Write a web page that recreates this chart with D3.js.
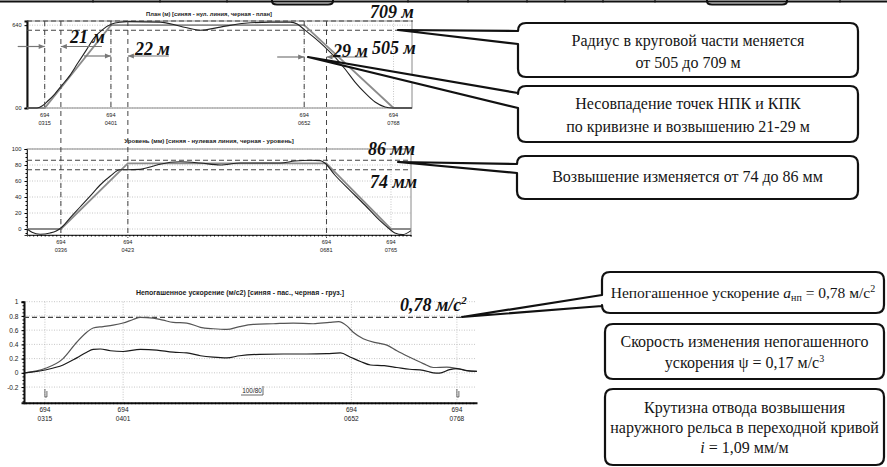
<!DOCTYPE html>
<html><head><meta charset="utf-8">
<script src="https://cdn.jsdelivr.net/npm/d3@7"></script>
<style>
body{margin:0;background:#fff}
svg{display:block}
</style></head><body>
<svg id="c" width="887" height="467"></svg>
<script>
// ---- Plan (curvature) ----
const planStations = [292,305,311.5,319,328,337.5,348,358,369,379,391,402,413,422,465,491,517,543,575,608,634,643,653,666,679,692,705,718,731,744,757,767,792];
const planValues   = [0,0,15,54,108,177,254,347,447,540,609,648,663,667,663,632,601,625,655,663,663,648,601,540,470,393,301,200,116,46,8,0,0];
const planZeroStations = [292,315,401,652,768,792];
const planZeroValues   = [0,0,640,640,0,0];
const planRefValues = [672, 601];
const planRefLabels = ["709 м", "505 м"];
const planTickStations = [315,401,652,768];
const planYTicks = [640, 0];
const planYTickLabels = ["640", "00"];

// ---- Cross level (superelevation) ----
const levelStations = [292,298.5,309,322,330,337.5,348,361,374,387,400,413,422,439,452,465,491,517,543,569,595,621,640,660,673,679,692,711,731,750,763,770,780,791];
const levelValues   = [0,-4,-6.5,-5,-2.5,2.5,14,27.5,41,55,66,74,74,74.5,77.5,81,84,82.5,80,82.5,82.5,82.5,85,86,85.5,82.5,67.5,49,30,11,0,-5,-7,-2];
const levelZeroStations = [292,336,423,681,765,791];
const levelZeroValues   = [0,0,82,82,0,0];
const levelRefValues = [86, 74];
const levelRefLabels = ["86 мм", "74 мм"];
const levelTickStations = [336,423,681,765];
const levelYTicks = [0,20,40,60,80,100];

// ---- Unbalanced acceleration ----
const accelPassStations = [293,315,335,350,361,368,379,390,401,412,420,434,445,456,471,486,500,515,529,544,566,588,610,628,638,647,654,665,680,691,702,716,731,742,757,768,779,790];
const accelPass = [0,0.06,0.2,0.43,0.57,0.63,0.65,0.67,0.70,0.75,0.78,0.77,0.74,0.71,0.70,0.64,0.62,0.61,0.65,0.68,0.69,0.70,0.69,0.71,0.72,0.66,0.57,0.48,0.42,0.39,0.31,0.22,0.13,0.075,0.08,0.06,0.03,0.02];
const accelFreightStations = [293,315,335,350,361,368,376,387,401,420,438,456,471,486,500,515,529,551,577,603,625,640,651,662,673,688,702,716,731,742,749,760,768,779,790];
const accelFreight = [0,0.04,0.11,0.21,0.29,0.33,0.335,0.31,0.30,0.33,0.32,0.29,0.28,0.24,0.22,0.21,0.24,0.26,0.265,0.265,0.27,0.28,0.22,0.16,0.11,0.10,0.075,0.05,0.035,0,-0.005,0.045,0.06,0.03,0.02];
const accelRefValues = [0.78];
const accelTickStations = [315,401,652,768];
const accelYTicks = [1,0.8,0.6,0.4,0.2,0,-0.2];
const accelYTickLabels = ["1","0.8","0.6","0.4","0.2","0","-0.2"];

const kmLabel = "694";
const titles = [
  "План (м) [синяя - нул. линия, черная - план]",
  "Уровень (мм)  [синяя - нулевая линия, черная - уровень]",
  "Непогашенное ускорение (м/с2) [синяя - пас., черная - груз.]"
];

const svg = d3.select("#c");
const SANS = "'Liberation Sans', Arial, sans-serif";
const SERIF = "'Liberation Serif', 'Times New Roman', serif";
const fmtSt = d3.format("04d");

// scales
const x1 = d3.scaleLinear().domain([292, 792]).range([27, 412]);
const y1 = d3.scaleLinear().domain([0, 672]).range([108, 21]);
const x2 = d3.scaleLinear().domain([292, 791]).range([27, 411]);
const y2 = d3.scaleLinear().domain([-7.5, 100]).range([235, 149]);
const x3 = d3.scaleLinear().domain([292, 789]).range([24, 476]);
const y3 = d3.scaleLinear().domain([-0.42, 1]).range([402.7, 301.7]);

const zip = (a, b) => a.map((v, i) => [v, b[i]]);

// ---- cropped table edge at the top ----
const strip = svg.append("g");
strip.append("line").attr("x1", 0).attr("x2", 887).attr("y1", 1.5).attr("y2", 1.5)
  .attr("stroke", "#111").attr("stroke-width", 2);
[93,160,227,408,468,527,565,603,655,840].forEach(x => {
  strip.append("line").attr("x1", x).attr("x2", x).attr("y1", 0).attr("y2", 2.5)
    .attr("stroke", "#111").attr("stroke-width", 1.2);
});
[[272,333],[707,787]].forEach(([a, b]) => {
  strip.append("path").attr("d", `M${a},0V1Q${a},4.5 ${a+5},4.5H${b-5}Q${b},4.5 ${b},1V0`)
    .attr("fill", "none").attr("stroke", "#111").attr("stroke-width", 2);
});

function gridH(g, ys, xr, vals) {
  vals.forEach(v => g.append("line").attr("x1", xr[0]).attr("x2", xr[1])
    .attr("y1", ys(v)).attr("y2", ys(v)).attr("stroke", "#b8b8b8")
    .attr("stroke-width", 0.8).attr("stroke-dasharray", "1,1.5"));
}
function gridV(g, xs, yr, vals) {
  vals.forEach(v => g.append("line").attr("y1", yr[0]).attr("y2", yr[1])
    .attr("x1", xs(v)).attr("x2", xs(v)).attr("stroke", "#b8b8b8")
    .attr("stroke-width", 0.8).attr("stroke-dasharray", "1,1.5"));
}
function stationLabels(g, xs, vals, y, fs, gap) {
  vals.forEach(v => {
    const t = g.append("text").attr("x", xs(v)).attr("y", y).attr("text-anchor", "middle")
      .attr("font-family", SANS).attr("font-size", fs).attr("fill", "#222");
    t.append("tspan").attr("x", xs(v)).text(kmLabel);
    t.append("tspan").attr("x", xs(v)).attr("dy", gap).text(fmtSt(v));
  });
}
function title(g, text, x, y, fs) {
  g.append("text").attr("x", x).attr("y", y).attr("text-anchor", "middle")
    .attr("font-family", SANS).attr("font-size", fs).attr("font-weight", "bold")
    .attr("fill", "#222").text(text);
}
function boldLabel(g, x, y, text, sup) {
  const t = g.append("text").attr("x", x).attr("y", y)
    .attr("font-family", SERIF).attr("font-size", 18).attr("font-weight", "bold")
    .attr("font-style", "italic").attr("fill", "#111").text(text);
  if (sup) t.append("tspan").attr("dy", -7).attr("font-size", 11).text(sup);
}
const dashRef = (g, x0, x1_, y) => g.append("line").attr("x1", x0).attr("x2", x1_)
  .attr("y1", y).attr("y2", y).attr("stroke", "#444").attr("stroke-width", 1.1)
  .attr("stroke-dasharray", "5,3");

// ================= Panel 1: plan =================
const p1 = svg.append("g");
gridH(p1, y1, [27, 412], [640, 0]);
gridV(p1, x1, [21, 108], planTickStations);
p1.append("rect").attr("x", 27).attr("y", 21).attr("width", 385).attr("height", 87)
  .attr("fill", "none").attr("stroke", "#8a8a8a").attr("stroke-width", 1);
title(p1, titles[0], 209, 15.5, 5.8);
const ax1 = p1.append("g").attr("transform", "translate(27,0)")
  .call(d3.axisLeft(y1).tickValues(planYTicks).tickSize(2.5).tickFormat((d, i) => planYTickLabels[i]));
ax1.select(".domain").attr("stroke", "#111").attr("stroke-width", 2);
ax1.selectAll("text").attr("font-family", SANS).attr("font-size", 5.6).attr("fill", "#222").attr("dy", "0.32em");
stationLabels(p1, x1, planTickStations, 117, 5.6, 8.2);
dashRef(p1, 27, 413, y1(planRefValues[0]));
dashRef(p1, 27, 400, y1(planRefValues[1]));
p1.append("path").datum(zip(planZeroStations, planZeroValues))
  .attr("d", d3.line().x(d => x1(d[0])).y(d => y1(d[1])))
  .attr("fill", "none").attr("stroke", "#8c8c8c").attr("stroke-width", 1.8);
p1.append("path").datum(zip(planStations, planValues))
  .attr("d", d3.line().curve(d3.curveMonotoneX).x(d => x1(d[0])).y(d => y1(d[1])))
  .attr("fill", "none").attr("stroke", "#222").attr("stroke-width", 1.1);

// ================= Panel 2: level =================
const p2 = svg.append("g");
gridH(p2, y2, [27, 411], levelYTicks);
gridV(p2, x2, [149, 235], levelTickStations);
p2.append("rect").attr("x", 27).attr("y", 149).attr("width", 384).attr("height", 86)
  .attr("fill", "none").attr("stroke", "#8a8a8a").attr("stroke-width", 1);
title(p2, titles[1], 209, 143, 6.1);
const ax2 = p2.append("g").attr("transform", "translate(27,0)")
  .call(d3.axisLeft(y2).tickValues(levelYTicks).tickSize(2.5));
ax2.select(".domain").attr("stroke", "#333").attr("stroke-width", 1);
ax2.selectAll("text").attr("font-family", SANS).attr("font-size", 5.8).attr("fill", "#222");
p2.append("g").attr("transform", "translate(27,0)")
  .call(d3.axisLeft(y2).tickValues(d3.range(-5, 100, 5)).tickSize(1.5).tickFormat(""))
  .select(".domain").remove();
p2.append("g").attr("transform", "translate(0,235)")
  .call(d3.axisBottom(x2).tickValues(d3.range(295, 791, 5)).tickSize(1.5).tickFormat(""))
  .select(".domain").attr("stroke", "#333");
stationLabels(p2, x2, levelTickStations, 244, 5.6, 8.2);
dashRef(p2, 27, 411, y2(levelRefValues[0]));
dashRef(p2, 27, 411, y2(levelRefValues[1]));
p2.append("path").datum(zip(levelZeroStations, levelZeroValues))
  .attr("d", d3.line().x(d => x2(d[0])).y(d => y2(d[1])))
  .attr("fill", "none").attr("stroke", "#8c8c8c").attr("stroke-width", 1.8);
p2.append("path").datum(zip(levelStations, levelValues))
  .attr("d", d3.line().curve(d3.curveMonotoneX).x(d => x2(d[0])).y(d => y2(d[1])))
  .attr("fill", "none").attr("stroke", "#222").attr("stroke-width", 1.1);

// ================= Vertical dashed markers (НПК/КПК) =================
const vd = svg.append("g");
[315, 401, 652].forEach(s => vd.append("line").attr("x1", x1(s)).attr("x2", x1(s))
  .attr("y1", 21).attr("y2", 110).attr("stroke", "#444").attr("stroke-width", 1).attr("stroke-dasharray", "5,4"));
[336, 423, 681].forEach(s => vd.append("line").attr("x1", x1(s)).attr("x2", x1(s))
  .attr("y1", 21).attr("y2", 238).attr("stroke", "#444").attr("stroke-width", 1).attr("stroke-dasharray", "5,4"));

// offset arrows between curvature and level transition points
const defs = svg.append("defs");
defs.append("marker").attr("id", "ah").attr("viewBox", "0 0 10 10").attr("refX", 10).attr("refY", 5)
  .attr("markerWidth", 7).attr("markerHeight", 5).attr("orient", "auto")
  .append("path").attr("d", "M0,1L10,5L0,9Z").attr("fill", "#777");
const arrowSets = [
  { from: 315, to: 336, y: 46.5, label: "21 м", lx: 70, ly: 43 },
  { from: 401, to: 423, y: 56, label: "22 м", lx: 135, ly: 55 },
  { from: 652, to: 681, y: 57, label: "29 м", lx: 333, ly: 57 }
];
arrowSets.forEach(a => {
  const xa = x1(a.from), xb = x1(a.to);
  vd.append("line").attr("x1", xa - 27).attr("x2", xa).attr("y1", a.y).attr("y2", a.y)
    .attr("stroke", "#777").attr("stroke-width", 1.2).attr("marker-end", "url(#ah)");
  vd.append("line").attr("x1", xb + 41).attr("x2", xb).attr("y1", a.y).attr("y2", a.y)
    .attr("stroke", "#777").attr("stroke-width", 1.2).attr("marker-end", "url(#ah)");
  boldLabel(vd, a.lx, a.ly, a.label);
});
boldLabel(vd, 370, 18, planRefLabels[0]);
boldLabel(vd, 372, 54, planRefLabels[1]);
boldLabel(vd, 368, 155, levelRefLabels[0]);
boldLabel(vd, 370, 188, levelRefLabels[1]);

// ================= Panel 3: unbalanced acceleration =================
const p3 = svg.append("g");
gridH(p3, y3, [24, 476], accelYTicks);
gridV(p3, x3, [301.7, 402.7], accelTickStations);
title(p3, titles[2], 240, 295, 7);
const ax3 = p3.append("g").attr("transform", "translate(24,0)")
  .call(d3.axisLeft(y3).tickValues(accelYTicks).tickSize(2.5).tickFormat((d, i) => accelYTickLabels[i]));
ax3.select(".domain").attr("stroke", "#111").attr("stroke-width", 2);
ax3.selectAll("text").attr("font-family", SANS).attr("font-size", 6.6).attr("fill", "#222");
p3.append("g").attr("transform", "translate(24,0)")
  .call(d3.axisLeft(y3).tickValues(d3.range(-0.4, 1.001, 0.05)).tickSize(1.5).tickFormat(""))
  .select(".domain").remove();
const bx3 = p3.append("g").attr("transform", "translate(0,402.7)")
  .call(d3.axisBottom(x3).tickValues(d3.range(294, 789, 4)).tickSize(1.5).tickFormat(""));
bx3.select(".domain").attr("stroke", "#111").attr("stroke-width", 2);
stationLabels(p3, x3, accelTickStations, 412, 6.6, 8.5);
dashRef(p3, 24, 462, y3(accelRefValues[0]));
boldLabel(p3, 400, 311, "0,78 м/с", "2");
p3.append("path").datum(zip(accelPassStations, accelPass))
  .attr("d", d3.line().curve(d3.curveMonotoneX).x(d => x3(d[0])).y(d => y3(d[1])))
  .attr("fill", "none").attr("stroke", "#555").attr("stroke-width", 1.2);
p3.append("path").datum(zip(accelFreightStations, accelFreight))
  .attr("d", d3.line().curve(d3.curveMonotoneX).x(d => x3(d[0])).y(d => y3(d[1])))
  .attr("fill", "none").attr("stroke", "#1a1a1a").attr("stroke-width", 1.2);
[315, 768].forEach(s => {
  const xx = x3(s);
  p3.append("path").attr("d", `M${xx},389V397M${xx+2},391V397H${xx}`)
    .attr("fill", "none").attr("stroke", "#444").attr("stroke-width", 0.8);
});
p3.append("text").attr("x", 252).attr("y", 393).attr("text-anchor", "middle")
  .attr("font-family", SANS).attr("font-size", 6.4).attr("fill", "#222").text("100/80");
p3.append("path").attr("d", "M241,395H263V386").attr("fill", "none").attr("stroke", "#444").attr("stroke-width", 0.8);

// ================= Callouts =================
function callout(b, tail, lines, fs) {
  const { x0, y0, x1: xr, y1: yb } = b, r = 8;
  let p = `M${x0 + r},${y0}H${xr - r}Q${xr},${y0} ${xr},${y0 + r}V${yb - r}Q${xr},${yb} ${xr - r},${yb}H${x0 + r}Q${x0},${yb} ${x0},${yb - r}`;
  if (tail) p += `V${tail.a2}L${tail.tx},${tail.ty}L${x0},${tail.a1}`;
  p += `V${y0 + r}Q${x0},${y0} ${x0 + r},${y0}Z`;
  const g = svg.append("g");
  g.append("path").attr("d", p).attr("fill", "#fff").attr("stroke", "#111")
    .attr("stroke-width", 2.2).attr("stroke-linejoin", "round");
  const cx = (x0 + xr) / 2;
  lines.forEach(l => {
    const t = g.append("text").attr("x", cx).attr("y", l.y).attr("text-anchor", "middle")
      .attr("font-family", SERIF).attr("font-size", fs || 16).attr("fill", "#151515");
    l.parts.forEach(pt => {
      const s = t.append("tspan").text(pt.t);
      if (pt.i) s.attr("font-style", "italic");
      if (pt.fs) s.attr("font-size", pt.fs);
      if (pt.dy) s.attr("dy", pt.dy);
    });
  });
}
callout({ x0: 518, y0: 23, x1: 858, y1: 77 }, { tx: 398, ty: 30, a1: 31, a2: 44 }, [
  { y: 46, parts: [{ t: "Радиус в круговой части меняется" }] },
  { y: 68, parts: [{ t: "от 505  до 709 м" }] }
]);
callout({ x0: 518, y0: 86, x1: 858, y1: 142 }, { tx: 308, ty: 57, a1: 93, a2: 108 }, [
  { y: 109, parts: [{ t: "Несовпадение точек НПК и КПК" }] },
  { y: 132, parts: [{ t: "по кривизне и возвышению 21-29 м" }] }
]);
callout({ x0: 517, y0: 156, x1: 858, y1: 199 }, { tx: 398, ty: 162, a1: 164, a2: 173 }, [
  { y: 182, parts: [{ t: "Возвышение изменяется от 74 до 86 мм" }] }
]);
callout({ x0: 602, y0: 272, x1: 884, y1: 313 }, { tx: 462, ty: 317, a1: 295, a2: 306 }, [
  { y: 298, parts: [{ t: "Непогашенное ускорение " }, { t: "a", i: true }, { t: "нп", fs: 10, dy: 3 },
    { t: " = 0,78 м/с", dy: -3 }, { t: "2", fs: 10, dy: -6 }] }
], 15.5);
callout({ x0: 605, y0: 324, x1: 884, y1: 379 }, null, [
  { y: 347, parts: [{ t: "Скорость изменения непогашенного" }] },
  { y: 368, parts: [{ t: "ускорения ψ = 0,17 м/с" }, { t: "3", fs: 10, dy: -6 }] }
]);
callout({ x0: 605, y0: 389, x1: 884, y1: 465 }, null, [
  { y: 413, parts: [{ t: "Крутизна отвода возвышения" }] },
  { y: 433, parts: [{ t: "наружного рельса в переходной кривой" }] },
  { y: 453, parts: [{ t: "i", i: true }, { t: " = 1,09 мм/м" }] }
]);
</script>
</body></html>
